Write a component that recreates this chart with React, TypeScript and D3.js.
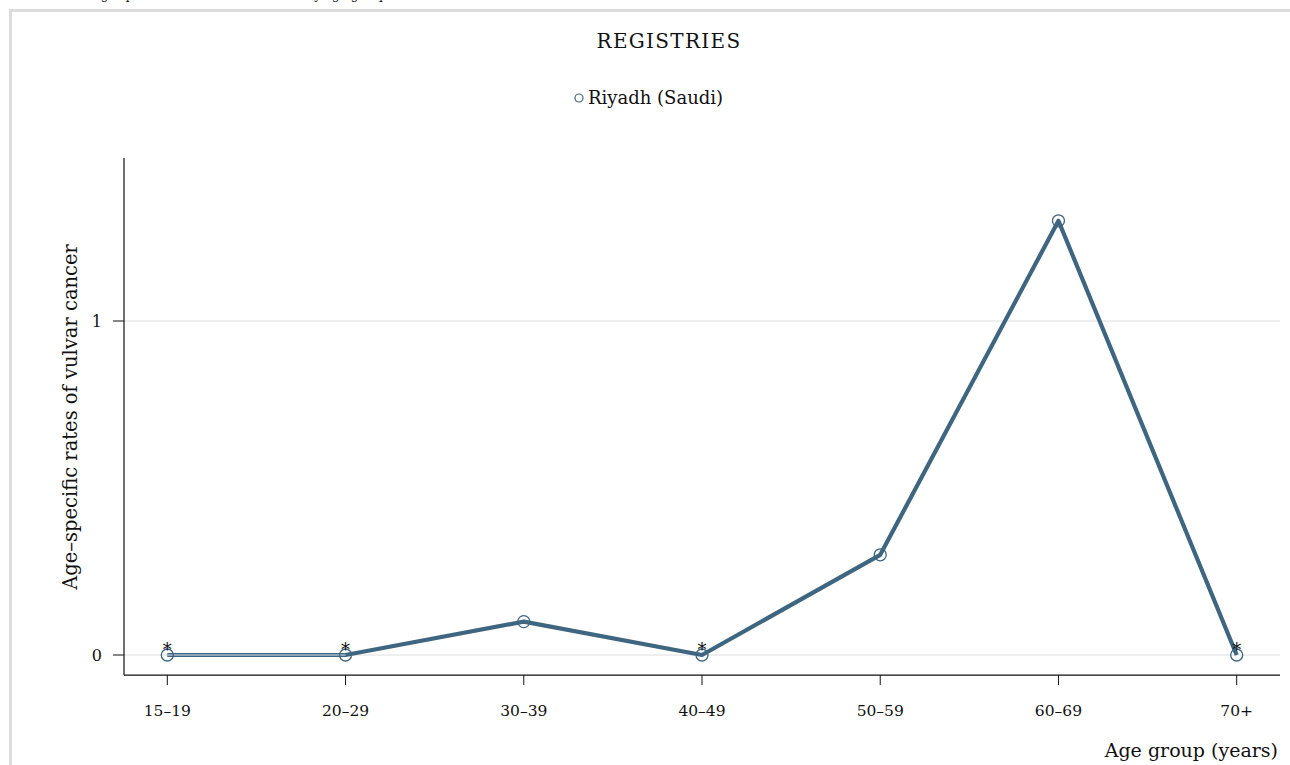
import React from "react";
import * as d3 from "d3";

const categories: string[] = ["15–19", "20–29", "30–39", "40–49", "50–59", "60–69", "70+"];
const rates: number[] = [0, 0, 0.1, 0, 0.3, 1.3, 0];
const flagged: boolean[] = [true, true, false, true, false, false, true];
const yTicks: number[] = [0, 1];
const seriesName = "Riyadh (Saudi)";
const legendTitle = "REGISTRIES";
const xTitle = "Age group (years)";
const yTitle = "Age–specific rates of vulvar cancer";
const topTitle = "Age-specific rates of vulvar cancer by age group";

const W = 1290;
const H = 765;
const FONT = "'DejaVu Serif', serif";
const LINE = "#3f6680";

export default function App() {
  const left = 124;
  const right = 1280;
  const x = d3.scalePoint<string>().domain(categories).range([left, right]).padding(0.243);
  const y = d3.scaleLinear().domain([0, 1]).range([655, 321]);
  const axisTop = y(1.488);
  const axisBottom = y(-0.06);

  const pts = categories.map((c, i) => [x(c) as number, y(rates[i])] as [number, number]);
  const line = d3.line<[number, number]>();
  const path = line(pts) || "";
  const flatSegs: string[] = [];
  for (let i = 0; i < pts.length - 1; i++) {
    if (rates[i] === 0 && rates[i + 1] === 0) flatSegs.push(line([pts[i], pts[i + 1]]) || "");
  }

  return (
    <svg width={W} height={H} style={{ position: "absolute", left: 0, top: 0, display: "block", background: "#fff" }} fontFamily={FONT}>
      <rect x={0} y={0} width={W} height={H} fill="#fff" />
      <text x={92} y={-1} fontSize={12} fill="#111">{topTitle}</text>
      <path d={`M10.5,${H + 5} L10.5,10.5 L${W + 5},10.5`} fill="none" stroke="#dcdcdc" strokeWidth={3} />

      <text x={669} y={48} fontSize={20} letterSpacing={1.3} textAnchor="middle" fill="#111">{legendTitle}</text>
      <circle cx={579} cy={98} r={4} fill="none" stroke={LINE} strokeWidth={1.2} />
      <text x={588} y={104} fontSize={18} fill="#111">{seriesName}</text>

      {yTicks.map((t) => (
        <g key={t}>
          <line x1={left} x2={right} y1={y(t)} y2={y(t)} stroke="#dedede" strokeWidth={1} />
          <line x1={113} x2={left} y1={y(t)} y2={y(t)} stroke="#111" strokeWidth={1} />
          <text x={102} y={y(t) + 6} fontSize={16} textAnchor="end" fill="#111">{t}</text>
        </g>
      ))}
      <line x1={left} x2={left} y1={axisTop} y2={axisBottom} stroke="#111" strokeWidth={1.2} />
      <line x1={left} x2={right} y1={axisBottom} y2={axisBottom} stroke="#111" strokeWidth={1.2} />
      {categories.map((c) => (
        <g key={c}>
          <line x1={x(c)} x2={x(c)} y1={axisBottom} y2={axisBottom + 10} stroke="#111" strokeWidth={1} />
          <text x={x(c)} y={716} fontSize={15.5} textAnchor="middle" fill="#111">{c}</text>
        </g>
      ))}
      <text x={1278} y={757} fontSize={19} textAnchor="end" fill="#111">{xTitle}</text>
      <text transform={`translate(77,${417}) rotate(-90)`} fontSize={19.5} textAnchor="middle" fill="#111">{yTitle}</text>

      <path d={path} fill="none" stroke={LINE} strokeWidth={4.2} strokeLinejoin="round" />
      {flatSegs.map((d, i) => (
        <path key={i} d={d} fill="none" stroke="#a9bccb" strokeWidth={1.3} />
      ))}
      {pts.map((p, i) => (
        <circle key={i} cx={p[0]} cy={p[1]} r={6} fill="none" stroke={LINE} strokeWidth={1.3} />
      ))}
      {pts.map((p, i) =>
        flagged[i] ? (
          <text key={i} x={p[0]} y={p[1] + 1} fontSize={18} textAnchor="middle" fill="#111">*</text>
        ) : null
      )}
    </svg>
  );
}
